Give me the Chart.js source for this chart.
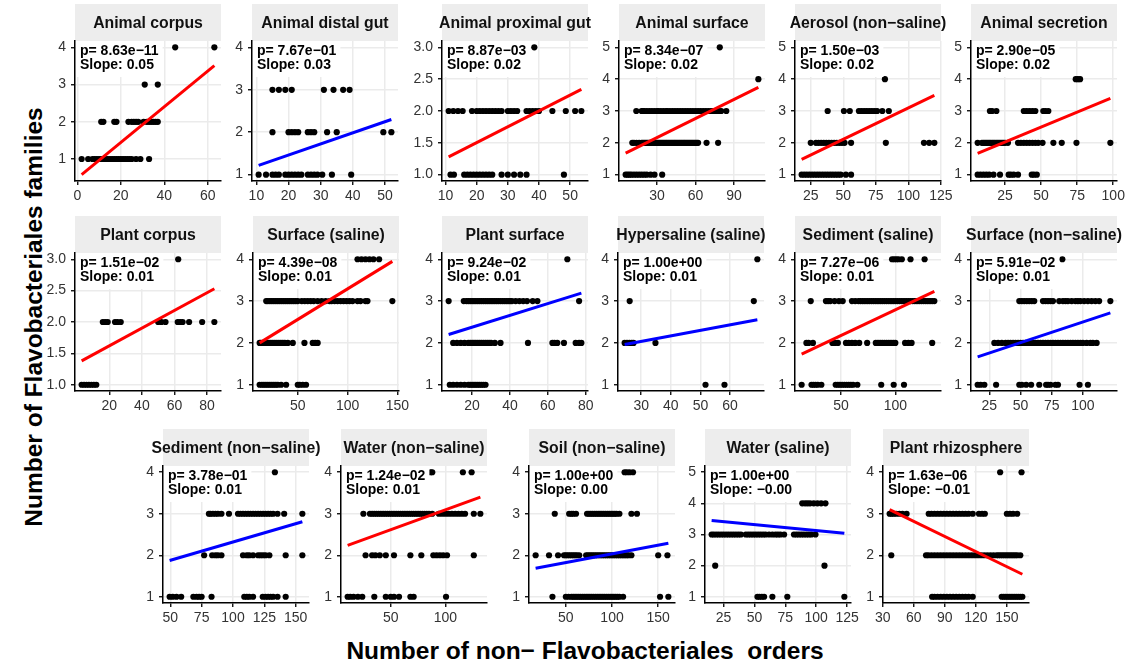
<!DOCTYPE html>
<html>
<head>
<meta charset="utf-8">
<script src="https://cdn.jsdelivr.net/npm/chart.js@4.4.1/dist/chart.umd.min.js"></script>
<style>
  html, body { margin: 0; padding: 0; background: #ffffff; }
  #fig { position: relative; width: 1130px; height: 666px; overflow: hidden;
         font-family: 'Liberation Sans', Arial, sans-serif; }
  #fig canvas { position: absolute; }
  .axis-title { position: absolute; font-weight: bold; font-size: 24.5px; color: #000;
                white-space: pre; line-height: 1; }
  #xTitle { left: 585px; top: 651px; transform: translate(-50%, -50%); }
  #yTitle { left: 34px; top: 317px; transform: translate(-50%, -50%) rotate(-90deg); }
</style>
</head>
<body>
<div id="fig">
  <div class="axis-title" id="xTitle">Number of non− Flavobacteriales  orders</div>
  <div class="axis-title" id="yTitle">Number of Flavobacteriales families</div>
</div>
<script>
// ---- Points per habitat: [families, [non-Flavobacteriales orders ...]] ----
const animalCorpusPts = [
  [1, [2, 5, 7, 8, 9, 10, 11, 12, 13, 14, 15, 16, 17, 18, 19, 20, 21, 22, 23, 24, 25, 27, 29, 33]],
  [2, [11, 12, 17, 18, 23.5, 25, 26, 27, 28, 30.5, 32, 33, 34, 35, 36, 37]],
  [3, [31, 37]],
  [4, [45, 63]]
];
const animalDistalGutPts = [
  [1, [10.7, 13, 15, 16, 17, 19, 20, 21, 22, 23, 24, 26, 27, 28, 29, 30.5, 33.5, 39.5]],
  [2, [15, 20, 21, 22, 23, 26, 27, 28, 32, 35, 49.5, 52]],
  [3, [15, 17, 19, 21, 31, 34, 37, 39]],
  [4, [20]]
];
const animalProximalGutPts = [
  [1, [11.6, 12.7, 16, 17, 18, 19, 20, 21, 22, 23, 24, 25, 28, 30, 32, 34, 36, 48]],
  [2, [11, 12.5, 14, 15.5, 18.5, 20, 21, 22, 23, 24, 25, 26, 27, 28, 30, 31, 32, 33, 36, 37, 38, 39, 40, 44.3, 48.6, 51.6, 53.6]],
  [3, [38.5]]
];
const animalSurfacePts = [
  [1, [5.5, 7, 8.5, 10, 12, 14, 16, 18, 20, 22, 25, 28, 34]],
  [2, [10.7, 12, 14, 16, 18, 19, 20, 21, 22, 23, 24, 25, 26, 27, 28, 29, 30, 31, 32, 33, 34, 35, 36, 37, 38, 39, 40,
       41, 42, 43, 44, 45, 46, 47, 48, 49, 50, 51, 52, 53, 54, 55, 56, 57, 58, 59, 60, 61, 62, 68.6, 77.6]],
  [3, [13.8, 18, 19, 20, 22, 24, 26, 28, 30, 31, 33, 35, 37, 38, 40, 42, 44, 46, 48, 50, 52, 54, 56, 58, 60, 62,
       64, 66, 68, 70, 72, 74, 76, 78, 80, 84]],
  [4, [109]],
  [5, [78.9]]
];
const aerosolNonSalinePts = [
  [1, [18, 20, 22, 24, 26, 28, 30, 32, 34, 36, 38, 40, 42, 44, 46, 48, 52, 56]],
  [2, [25, 29, 31, 33, 35, 37, 39, 41, 43, 45, 47, 49, 51, 56, 82.7, 112, 116, 120]],
  [3, [38, 50.5, 55, 62, 64, 66, 68, 70, 72, 74, 76, 80, 85]],
  [4, [82]],
  [5, [30]]
];
const animalSecretionPts = [
  [1, [6, 8, 10, 12, 14, 17, 21.5, 27.5, 29, 31, 34, 43.5, 45, 47]],
  [2, [6, 9, 10, 11, 12, 13, 14, 15, 16, 17, 18, 19, 20, 21, 22, 23, 24, 25, 27, 34, 36, 38, 40, 42, 44, 46, 48, 51,
       58.5, 64.3, 74.5, 98]],
  [3, [14.5, 16, 19, 38, 40, 42, 44, 46, 51.5, 53, 55]],
  [4, [74, 75.5, 77]],
  [5, [10]]
];
const plantCorpusPts = [
  [1, [3, 4.5, 6, 7.5, 9, 10.5, 12]],
  [2, [16, 17.5, 19, 23.5, 25, 27, 50, 52, 54.5, 62, 63.5, 65, 69, 77, 84.5]],
  [3, [62.3]]
];
const surfaceSalinePts = [
  [1, [11.7, 14, 16, 18, 20, 22, 24, 26, 28, 30, 33.3, 38.3, 50, 52, 55, 58.3]],
  [2, [11.7, 13, 15, 17, 19, 21, 23, 25, 27, 29, 31, 33, 35, 37, 40, 45, 56.7, 65, 67.5, 70]],
  [3, [18.3, 20, 22, 24, 26, 28, 30, 32, 34, 36, 38, 40, 42, 44, 46, 48, 50, 54, 57, 60, 63, 66, 70, 74, 78, 82,
       84, 87, 90, 93, 96, 99, 102, 105, 110, 113, 118, 120, 145]],
  [4, [110, 114, 118, 122, 126, 131.7]]
];
const plantSurfacePts = [
  [1, [8.2, 10, 12, 14, 16, 18, 19, 20, 21, 22, 23, 24, 25, 26, 27.1]],
  [2, [10, 12, 14, 16, 18, 19, 20, 21, 22, 23, 24, 25, 26, 27, 28, 29, 30, 32, 35, 49.5, 62.4, 63.5, 65, 68.5,
       74.7, 76.5, 77.7]],
  [3, [7.6, 15.6, 17, 18, 19, 20, 21, 22, 23, 24, 25, 26, 27, 28, 29, 30, 31, 32, 33, 34, 35, 36, 37, 38, 39, 40,
       41, 43, 45, 47, 49, 52, 54.5, 76.5]],
  [4, [70.3]]
];
const hypersalinePts = [
  [1, [51.7, 58.1]],
  [2, [24.4, 25.2, 26, 26.8, 27.4, 34.8]],
  [3, [26.1, 68]],
  [4, [69.2]]
];
const sedimentSalinePts = [
  [1, [13.6, 22.7, 24.5, 26.5, 28.5, 31.8, 45, 47, 49, 51, 53, 55, 57, 59, 61, 65, 87, 98.5, 108]],
  [2, [18, 20, 24, 42, 44, 47, 54.5, 57, 60, 63, 66.7, 74, 82, 84, 86, 88, 90, 92, 94, 96, 98, 100, 109, 112, 115, 134]],
  [3, [22, 36, 38, 40, 44, 48, 51.5, 60, 63, 66, 68, 70, 72, 74, 76, 78, 80, 82, 84, 86, 88, 90, 92, 94, 96, 98,
       100, 102, 104, 106, 108, 110, 112, 114, 116, 118, 120, 122, 124, 126, 128, 130, 132, 134, 136]],
  [4, [97, 99, 101, 103, 106, 114, 127]]
];
const surfaceNonSalinePts = [
  [1, [15.6, 18, 21, 30.4, 49, 51, 54.5, 58.5, 65, 70.5, 72, 74, 78, 80, 97.3, 104]],
  [2, [29, 32, 35, 38, 40, 42, 44, 46, 48, 50, 52, 54, 56, 58, 60, 62, 64, 66, 68, 70, 72, 74, 76, 78, 80, 82, 84,
       86, 88, 90, 92, 94, 96, 98, 100, 103, 106, 108, 111]],
  [3, [49, 51, 53, 55, 57, 59, 61, 68, 70, 72, 74, 76, 81, 84, 86, 88, 91, 94, 96, 98, 101, 104, 107, 110, 113, 122]],
  [4, [83.5]]
];
const sedimentNonSalinePts = [
  [1, [49.5, 52, 55, 58.7, 68.4, 71, 73, 75, 82.9, 109, 111, 113, 116, 123.7, 126, 128, 130, 132, 135.5, 142]],
  [2, [77, 83.4, 86, 88, 90.8, 108, 111, 113, 116, 120, 122, 124, 126, 129, 142, 155.3]],
  [3, [80.8, 82, 84, 86, 88, 90.8, 96.8, 104, 106, 108, 110, 112, 114, 116, 118, 120, 122, 124, 126, 128, 130, 132,
       135.5, 140.8, 155.3]],
  [4, [133.4]]
];
const waterNonSalinePts = [
  [1, [10.6, 13, 16, 20, 24, 35, 45.5, 50, 53, 57.6, 68, 71, 100.6]],
  [2, [27, 33, 36, 40, 45.5, 53, 68, 78, 89, 92, 95, 98, 101.5, 126]],
  [3, [25, 31, 33, 35, 37, 39, 41, 43, 45, 47, 49, 51, 53, 55, 57, 59, 61, 63, 65, 67, 69, 71, 73, 75, 77, 79, 81,
       83, 85, 88, 94, 97, 100, 103, 106, 109, 112, 115, 118, 126, 132]],
  [4, [86.5, 88, 116, 124]]
];
const soilNonSalinePts = [
  [1, [35.5, 50, 53, 56, 58, 60, 62, 64, 66, 68, 70, 72, 74, 76, 78, 80, 82, 84, 86, 88, 90, 92, 94, 96, 98, 100,
       102, 104, 106, 108, 112, 152, 161]],
  [2, [17.3, 31.8, 41.6, 48, 50, 52, 54, 56, 58, 60, 62, 64.5, 72, 74, 76, 78, 80, 82, 84, 86, 88, 90, 92, 94, 96,
       98, 100, 102, 104, 106, 108, 110, 112, 114, 116, 118, 121, 150, 160]],
  [3, [38, 53.6, 56, 58, 61, 73, 75, 77, 79, 81, 83, 85, 87, 89, 91, 93, 95, 97, 99, 101, 103, 105, 108, 121, 127]],
  [4, [113.6, 116, 119, 122.7]]
];
const waterSalinePts = [
  [1, [52.4, 54, 56, 57.8, 64.5, 76.6, 122.8]],
  [2, [18.2, 106.7]],
  [3, [15.3, 17, 19, 21, 23, 25, 27, 29, 31, 33, 35, 37, 39, 43, 45, 47, 49, 51, 53, 55, 57, 59, 61.8, 64.5, 67, 69,
       71, 74, 82, 84, 86, 88, 90, 92, 94, 96, 99.4]],
  [4, [88.7, 91, 93, 95, 98, 101, 104, 107.5]],
  [5, [40]]
];
const plantRhizospherePts = [
  [1, [77.7, 80, 83, 86, 89, 92, 95, 98, 101, 104, 107, 110, 113, 117, 145, 147, 149, 151, 153, 155, 157, 159, 161,
       163, 165]],
  [2, [38.2, 71.8, 74, 77, 80, 83, 86, 89, 92, 95, 98, 101, 104, 107, 110, 113, 116, 119, 122, 125, 128, 131, 134,
       137, 140, 142, 144, 146, 148, 150, 152, 154, 156, 158, 160, 163]],
  [3, [36.6, 38.5, 40.5, 43, 46, 49, 53, 74.4, 77, 80, 83, 86, 89, 92, 95, 98, 101, 104, 107, 110, 113, 117, 123,
       126, 128.7, 150, 153, 156, 160]],
  [4, [143.5, 164.2]]
];

// ---- Per-panel summaries ----
const panelTitles = [
  'Animal corpus', 'Animal distal gut', 'Animal proximal gut', 'Animal surface', 'Aerosol (non−saline)', 'Animal secretion',
  'Plant corpus', 'Surface (saline)', 'Plant surface', 'Hypersaline (saline)', 'Sediment (saline)', 'Surface (non−saline)',
  'Sediment (non−saline)', 'Water (non−saline)', 'Soil (non−saline)', 'Water (saline)', 'Plant rhizosphere'
];
const panelPoints = [
  animalCorpusPts, animalDistalGutPts, animalProximalGutPts, animalSurfacePts, aerosolNonSalinePts, animalSecretionPts,
  plantCorpusPts, surfaceSalinePts, plantSurfacePts, hypersalinePts, sedimentSalinePts, surfaceNonSalinePts,
  sedimentNonSalinePts, waterNonSalinePts, soilNonSalinePts, waterSalinePts, plantRhizospherePts
];
const pValues = [
  8.63e-11, 7.67e-01, 8.87e-03, 8.34e-07, 1.50e-03, 2.90e-05,
  1.51e-02, 4.39e-08, 9.24e-02, 1.00e+00, 7.27e-06, 5.91e-02,
  3.78e-01, 1.24e-02, 1.00e+00, 1.00e+00, 1.63e-06
];
const fitSlopes = [
  0.048, 0.0262, 0.0249, 0.020, 0.0197, 0.0188,
  0.0141, 0.01463, 0.0141, 0.0132, 0.01226, 0.0099,
  0.0088, 0.0096, 0.0042, -0.0038, -0.01214
];
const fitIntercepts = [
  0.484, 0.937, 1.006, 1.564, 1.128, 1.555,
  1.339, 1.829, 2.094, 1.64, 1.566, 1.512,
  1.439, 2.135, 1.613, 3.505, 3.545
];
const xTickLabels = [
  ['0', '20', '40', '60'], ['10', '20', '30', '40', '50'], ['10', '20', '30', '40', '50'],
  ['30', '60', '90'], ['25', '50', '75', '100', '125'], ['25', '50', '75', '100'],
  ['20', '40', '60', '80'], ['50', '100', '150'], ['20', '40', '60', '80'],
  ['30', '40', '50', '60'], ['50', '100'], ['25', '50', '75', '100'],
  ['50', '75', '100', '125', '150'], ['50', '100'], ['50', '100', '150'],
  ['25', '50', '75', '100', '125'], ['30', '60', '90', '120', '150']
];
const yTickLabels = [
  ['1', '2', '3', '4'], ['1', '2', '3', '4'], ['1.0', '1.5', '2.0', '2.5', '3.0'],
  ['1', '2', '3', '4', '5'], ['1', '2', '3', '4', '5'], ['1', '2', '3', '4', '5'],
  ['1.0', '1.5', '2.0', '2.5', '3.0'], ['1', '2', '3', '4'], ['1', '2', '3', '4'],
  ['1', '2', '3', '4'], ['1', '2', '3', '4'], ['1', '2', '3', '4'],
  ['1', '2', '3', '4'], ['1', '2', '3', '4'], ['1', '2', '3', '4'],
  ['1', '2', '3', '4', '5'], ['1', '2', '3', '4']
];

// ---- Page layout (pixels) ----
const ROW_TOP = [41, 253, 466];
const ROW_BOTTOM = [181, 391, 603];
const ROW_LEFTS = [
  [75, 252, 442, 619, 795, 971],
  [75, 253, 442, 618, 795, 971],
  [163, 341, 529, 705, 883]
];
const PLOT_W = 146;
const STRIP_H = 37;
const Y_AXIS_W = 44;
const X_AXIS_H = 28;
const RIGHT_PAD = 26;
const FONT = "'Liberation Sans', Arial, sans-serif";

Chart.defaults.font.family = FONT;

function formatP(p) {
  const [mant, exp] = p.toExponential(2).split('e');
  const e = parseInt(exp, 10);
  return mant + 'e' + (e < 0 ? '−' : '+') + String(Math.abs(e)).padStart(2, '0');
}
function formatSlope(s) {
  return s.toFixed(2).replace('-', '−');
}

function buildPanel(i, left, top, bottom) {
  const points = [];
  panelPoints[i].forEach(([fam, orders]) => orders.forEach(o => points.push({ x: o, y: fam })));
  const xs = points.map(d => d.x);
  const xMin = Math.min(...xs), xMax = Math.max(...xs);
  const slope = fitSlopes[i], icpt = fitIntercepts[i];
  const fitLine = [{ x: xMin, y: icpt + slope * xMin }, { x: xMax, y: icpt + slope * xMax }];
  const ys = points.map(d => d.y).concat(fitLine.map(d => d.y));
  const yMin = Math.min(...ys), yMax = Math.max(...ys);
  const xPad = (xMax - xMin) * 0.05, yPad = (yMax - yMin) * 0.05;

  const W = PLOT_W + Y_AXIS_W + RIGHT_PAD;
  const H = (bottom - top) + STRIP_H + X_AXIS_H;
  const canvas = document.createElement('canvas');
  canvas.width = W; canvas.height = H;
  canvas.style.width = W + 'px'; canvas.style.height = H + 'px';
  canvas.style.left = (left - Y_AXIS_W) + 'px';
  canvas.style.top = (top - STRIP_H) + 'px';
  document.getElementById('fig').appendChild(canvas);

  const title = panelTitles[i];
  const stripPlugin = {
    id: 'strip' + i,
    beforeDraw(chart) {
      const { ctx, chartArea: a } = chart;
      ctx.save();
      ctx.fillStyle = '#EDEDED';
      ctx.fillRect(a.left, a.top - STRIP_H, a.right - a.left, STRIP_H);
      ctx.fillStyle = '#111';
      ctx.font = 'bold 15.8px ' + FONT;
      ctx.textAlign = 'center';
      ctx.textBaseline = 'middle';
      ctx.fillText(title, (a.left + a.right) / 2, a.top - STRIP_H / 2 + 1);
      ctx.restore();
    }
  };
  const line1 = 'p= ' + formatP(pValues[i]);
  const line2 = 'Slope: ' + formatSlope(slope);
  const statPlugin = {
    id: 'stat' + i,
    afterDatasetsDraw(chart) {
      const { ctx, chartArea: a } = chart;
      ctx.save();
      ctx.font = 'bold 14px ' + FONT;
      const w = Math.max(ctx.measureText(line1).width, ctx.measureText(line2).width);
      const tx = a.left + 5;
      ctx.fillStyle = '#ffffff';
      ctx.fillRect(a.left + 1, a.top, tx + w + 4 - (a.left + 1), 36);
      ctx.fillStyle = '#000';
      ctx.textAlign = 'left';
      ctx.textBaseline = 'middle';
      ctx.fillText(line1, tx, a.top + 10.5);
      ctx.fillText(line2, tx, a.top + 24.5);
      ctx.restore();
    }
  };

  const tickFont = { family: FONT, size: 14 };
  const gridOpts = { color: '#EBEBEB', lineWidth: 1.5, tickColor: '#000', tickLength: 4, tickWidth: 1.3, drawTicks: true };
  const borderOpts = { display: true, color: '#000', width: 1.5 };
  const xLabels = xTickLabels[i], yLabels = yTickLabels[i];

  new Chart(canvas, {
    type: 'scatter',
    data: {
      datasets: [
        { type: 'line', data: fitLine, borderColor: pValues[i] < 0.05 ? '#FF0000' : '#0000FF',
          borderWidth: 3, pointRadius: 0, fill: false, tension: 0, order: 0 },
        { type: 'scatter', data: points, pointRadius: 3.1, pointBackgroundColor: '#000',
          pointBorderWidth: 0, order: 1 }
      ]
    },
    options: {
      responsive: false,
      animation: false,
      devicePixelRatio: 1,
      events: [],
      layout: { padding: { left: 0, top: STRIP_H, right: RIGHT_PAD, bottom: 0 }, autoPadding: false },
      plugins: { legend: { display: false }, tooltip: { enabled: false } },
      scales: {
        x: {
          type: 'linear', position: 'bottom', min: xMin - xPad, max: xMax + xPad,
          afterBuildTicks: s => { s.ticks = xLabels.map(t => ({ value: Number(t) })); },
          afterFit: s => { s.height = X_AXIS_H; s.paddingLeft = 0; s.paddingRight = 0; s.paddingTop = 0; s.paddingBottom = 0; },
          ticks: { callback: (v, k) => xLabels[k], autoSkip: false, maxRotation: 0, minRotation: 0,
                   padding: 3, color: '#333', font: tickFont },
          grid: gridOpts, border: borderOpts
        },
        y: {
          type: 'linear', position: 'left', min: yMin - yPad, max: yMax + yPad,
          afterBuildTicks: s => { s.ticks = yLabels.map(t => ({ value: Number(t) })); },
          afterFit: s => { s.width = Y_AXIS_W; s.paddingLeft = 0; s.paddingRight = 0; s.paddingTop = 0; s.paddingBottom = 0; },
          ticks: { callback: (v, k) => yLabels[k], autoSkip: false, padding: 5, color: '#333', font: tickFont },
          grid: gridOpts, border: borderOpts
        }
      }
    },
    plugins: [stripPlugin, statPlugin]
  });
}

let idx = 0;
ROW_LEFTS.forEach((lefts, r) => {
  lefts.forEach(left => {
    buildPanel(idx, left, ROW_TOP[r], ROW_BOTTOM[r]);
    idx++;
  });
});
</script>
</body>
</html>
